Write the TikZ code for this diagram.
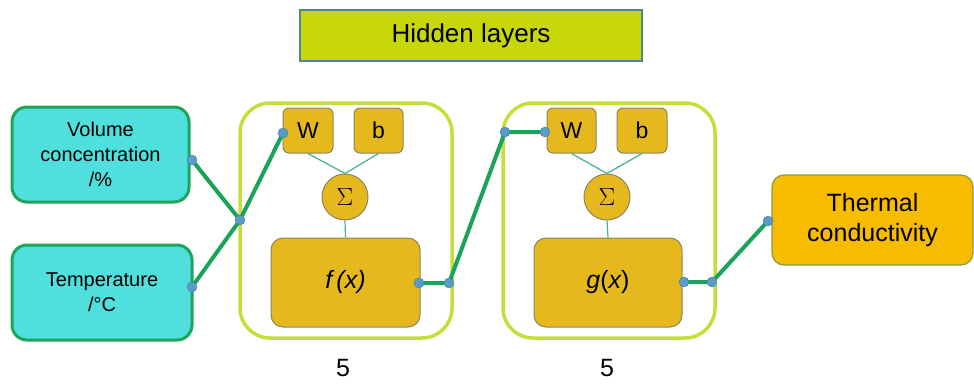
\documentclass[tikz,border=0pt]{standalone}
\usepackage{fontspec}
\setmainfont{Liberation Sans}
\definecolor{cyanfill}{HTML}{4FE0DE}
\definecolor{cyanborder}{HTML}{1FA55A}
\definecolor{contborder}{HTML}{C5DE3A}
\definecolor{hidfill}{HTML}{C8D70A}
\definecolor{hidborder}{HTML}{4F8A8B}
\definecolor{goldfill}{HTML}{E5B91E}
\definecolor{goldborder}{HTML}{8C8460}
\definecolor{orangefill}{HTML}{F7BC00}
\definecolor{orangeborder}{HTML}{7FA040}
\definecolor{linkgreen}{HTML}{1BA35A}
\definecolor{dotblue}{HTML}{5B9BC8}
\definecolor{thinteal}{HTML}{45B08F}
\tikzset{
  inbox/.style={draw=cyanborder, fill=cyanfill, line width=3pt, rounded corners=15pt, align=center, font=\fontsize{20}{25}\selectfont, inner sep=0pt},
  container/.style={draw=contborder, line width=3.5pt, rounded corners=30pt, inner sep=0pt},
  goldbox/.style={draw=goldborder, fill=goldfill, line width=1pt, rounded corners=6pt, inner sep=0pt, font=\fontsize{23}{26}\selectfont},
  sumnode/.style={circle, draw=goldborder, fill=goldfill, line width=1pt, minimum size=46pt, inner sep=0pt, font=\fontsize{23}{26}\selectfont},
  funcbox/.style={draw=goldborder, fill=goldfill, line width=1pt, rounded corners=12pt, inner sep=0pt, minimum width=149pt, minimum height=89pt, font=\fontsize{25}{28}\selectfont},
  link/.style={draw=linkgreen, line width=4pt},
  thin/.style={draw=thinteal, line width=1.2pt},
  dot/.style={circle, fill=dotblue, draw=dotblue!80!black, line width=0.4pt, minimum size=10pt, inner sep=0pt},
  countlabel/.style={font=\fontsize{25}{28}\selectfont, inner sep=0pt}
}
\begin{document}
\begin{tikzpicture}[x=1pt,y=-1pt]
\useasboundingbox (0,0) rectangle (974,383);
% title
\node[draw=hidborder, fill=hidfill, line width=1.2pt, minimum width=342pt, minimum height=51pt, inner sep=0pt, font=\fontsize{26}{30}\selectfont] (hid) at (471,35.5) {Hidden layers};
% inputs
\node[inbox, minimum width=177pt, minimum height=95pt] (vol) at (100.5,154.5) {Volume\\concentration\\/\%};
\node[inbox, minimum width=180pt, minimum height=95pt] (temp) at (102,292.5) {Temperature\\/°C};
% containers
\node[container, minimum width=212pt, minimum height=235pt] (c1) at (346,220.5) {};
\node[container, minimum width=212pt, minimum height=235pt] (c2) at (609,220.5) {};
% layer 1
\node[goldbox, minimum width=50pt, minimum height=45pt] (w1) at (308,130.5) {W};
\node[goldbox, minimum width=49pt, minimum height=45pt] (b1) at (378.5,130.5) {b};
\node[sumnode] (s1) at (345,197) {$\Sigma$};
\node[funcbox] (f1) at (345.5,282.5) {\itshape f\,(x)};
% layer 2
\node[goldbox, minimum width=49pt, minimum height=45pt] (w2) at (571.5,130.5) {W};
\node[goldbox, minimum width=50pt, minimum height=45pt] (b2) at (642,130.5) {b};
\node[sumnode] (s2) at (607,197) {$\Sigma$};
\node[funcbox, minimum width=148pt] (f2) at (608,282.5) {\itshape g\upshape(\itshape x\upshape)};
% output
\node[draw=orangeborder, fill=orangefill, line width=1.2pt, rounded corners=12pt, minimum width=201pt, minimum height=90pt, inner sep=0pt, align=center, font=\fontsize{25}{30}\selectfont] (out) at (872.5,220) {Thermal\\conductivity};
% thin internal links
\draw[thin] (w1.south) -- (s1.north);
\draw[thin] (b1.south) -- (s1.north);
\draw[thin] (s1.south) -- (f1.north);
\draw[thin] (w2.south) -- (s2.north);
\draw[thin] (b2.south) -- (s2.north);
\draw[thin] (s2.south) -- (f2.north);
% connector points
\coordinate (pv) at (192,160);
\coordinate (pt) at (192,287);
\coordinate (j1) at (240,220);
\coordinate (pw1) at (283,133);
\coordinate (pf1) at (419,283);
\coordinate (j2) at (449,283);
\coordinate (j3) at (505,132);
\coordinate (pw2) at (545,132);
\coordinate (pf2) at (684,282);
\coordinate (j4) at (712,282);
\coordinate (po) at (768,221);
\draw[link] (pv) -- (j1) -- (pw1);
\draw[link] (pt) -- (j1);
\draw[link] (pf1) -- (j2) -- (j3) -- (pw2);
\draw[link] (pf2) -- (j4) -- (po);
\foreach \p in {pv,pt,j1,pw1,pf1,j2,j3,pw2,pf2,j4,po}
  \node[dot] at (\p) {};
% counts
\node[countlabel] (n1) at (343,368) {5};
\node[countlabel] (n2) at (607,368) {5};
\end{tikzpicture}
\end{document}
